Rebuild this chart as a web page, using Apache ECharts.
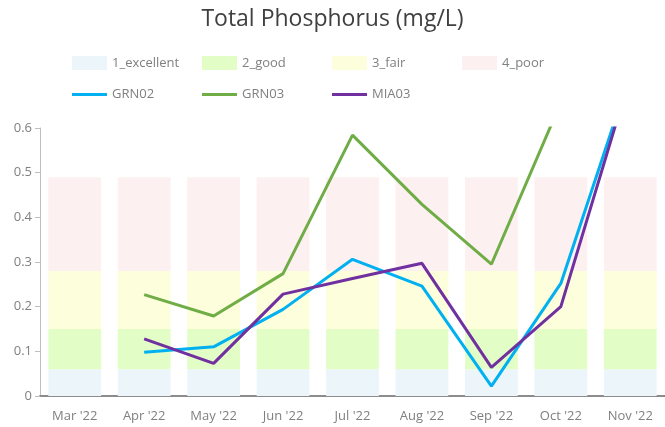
<!DOCTYPE html>
<html><head><meta charset="utf-8">
<script src="https://cdn.jsdelivr.net/npm/echarts@6/dist/echarts.min.js"></script>
<style>html,body{margin:0;padding:0;background:#fff}#c{width:665px;height:427px}</style>
</head><body><div id="c"></div>
<script>
const categories = ["Mar '22","Apr '22","May '22","Jun '22","Jul '22","Aug '22","Sep '22","Oct '22","Nov '22"];
const excellent = [0.06,0.06,0.06,0.06,0.06,0.06,0.06,0.06,0.06];
const good      = [0.09,0.09,0.09,0.09,0.09,0.09,0.09,0.09,0.09];
const fair      = [0.13,0.13,0.13,0.13,0.13,0.13,0.13,0.13,0.13];
const poor      = [0.21,0.21,0.21,0.21,0.21,0.21,0.21,0.21,0.21];
const GRN02 = [null,0.098,0.11,0.194,0.306,0.246,0.022,0.252,0.72];
const GRN03 = [null,0.227,0.179,0.274,0.584,0.429,0.295,0.657,0.85];
const MIA03 = [null,0.128,0.073,0.228,0.263,0.297,0.064,0.2,0.716];
const bandNames = ['1_excellent','2_good','3_fair','4_poor'];
const lineNames = ['GRN02','GRN03','MIA03'];

const font = 'Open Sans';
const gray = '#808080';
const chart = echarts.init(document.getElementById('c'));
function band(name, data, color){
  return {name, type:'bar', stack:'b', data, barCategoryGap:'24%', itemStyle:{color}, emphasis:{disabled:true}, silent:true};
}
function line(name, data, color){
  return {name, type:'line', data, symbol:'none', connectNulls:false, lineStyle:{color, width:3}, itemStyle:{color}, z:5};
}
const legendCols = [67, 197, 327, 457];
const legends = [];
bandNames.forEach((n,i)=>legends.push({data:[n], left:legendCols[i], top:51, itemWidth:35, itemHeight:14, icon:'rect',
  textStyle:{fontFamily:font, fontSize:13, color:gray}}));
lineNames.forEach((n,i)=>legends.push({data:[n], left:legendCols[i], top:83, itemWidth:35, itemHeight:3, icon:'rect',
  textStyle:{fontFamily:font, fontSize:13, color:gray}}));
chart.setOption({
  animation:false,
  title:{text:'Total Phosphorus (mg/L)', left:'center', top:3, textStyle:{fontFamily:font, fontSize:23, fontWeight:'normal', color:'#404040'}},
  legend:legends,
  grid:{left:40, right:0, top:128, bottom:31, containLabel:false},
  xAxis:{type:'category', data:categories,
    axisLine:{lineStyle:{color:'#8c8c8c', width:2}},
    axisTick:{alignWithLabel:true, length:6, lineStyle:{color:'#bfbfbf'}},
    axisLabel:{fontFamily:font, fontSize:13, color:gray, margin:14}},
  yAxis:{type:'value', min:0, max:0.6, interval:0.1,
    axisLine:{show:true, lineStyle:{color:'#bfbfbf'}},
    axisTick:{show:true, length:5, lineStyle:{color:'#bfbfbf'}},
    splitLine:{show:false},
    axisLabel:{fontFamily:font, fontSize:13, color:gray, margin:8, formatter:v=>String(+v.toFixed(1))}},
  series:[
    band(bandNames[0], excellent, '#ECF5F9'),
    band(bandNames[1], good, '#E3FDC7'),
    band(bandNames[2], fair, '#FDFEDC'),
    band(bandNames[3], poor, '#FCF0F0'),
    line(lineNames[0], GRN02, '#00B0F0'),
    line(lineNames[1], GRN03, '#70AD47'),
    line(lineNames[2], MIA03, '#7030A0')
  ]
});
</script></body></html>
